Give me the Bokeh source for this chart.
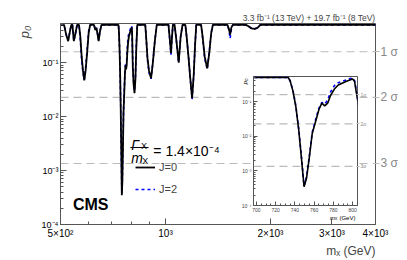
import math
from bokeh.plotting import figure
from bokeh.models import (FixedTicker, LogAxis, Span, Label, Legend, LegendItem,
                          Range1d, ColumnDataSource, Title)
from bokeh.layouts import column
from bokeh.embed import file_html
from bokeh.resources import INLINE

# ---------------- data ----------------
mass = [500, 512, 519, 526, 533, 537, 541, 546, 552, 558, 565, 570, 575, 580, 585, 590, 596, 602, 608,
        624, 629, 634, 638, 643, 649, 655,
        733, 735, 738, 741, 744, 747, 749.5, 752, 755, 758, 762, 765, 768, 771, 774, 777, 781, 785, 789,
        793, 797, 800, 802, 804, 806, 810, 815, 820, 825, 830,
        875, 880, 888, 897, 909, 920, 932, 944,
        1020, 1030, 1037, 1044, 1050, 1062, 1075, 1091, 1105, 1119,
        1140, 1150, 1165, 1178, 1192, 1205, 1215, 1225,
        1265, 1278, 1295, 1317, 1335, 1352, 1367,
        1505, 1520, 1532, 1545, 1560,
        1700, 1730, 1765, 1800, 1835, 1870, 4000]
p0_j0 = [0.5, 0.5, 0.33, 0.25, 0.4, 0.5, 0.5, 0.25, 0.35, 0.5, 0.5, 0.3, 0.13, 0.07, 0.047, 0.07, 0.15, 0.35, 0.5,
         0.5, 0.4, 0.44, 0.35, 0.25, 0.38, 0.5,
         0.5, 0.4, 0.2, 0.07, 0.015, 0.002, 0.00035, 0.0006, 0.0025, 0.012, 0.03, 0.06, 0.09, 0.075, 0.09, 0.15,
         0.23, 0.30, 0.34, 0.38, 0.42, 0.45, 0.38, 0.17, 0.08, 0.04, 0.027, 0.05, 0.2, 0.5,
         0.5, 0.3, 0.12, 0.07, 0.051, 0.1, 0.25, 0.5,
         0.5, 0.25, 0.15, 0.3, 0.5, 0.5, 0.25, 0.1, 0.3, 0.5,
         0.5, 0.3, 0.12, 0.05, 0.022, 0.06, 0.2, 0.5,
         0.5, 0.3, 0.13, 0.078, 0.15, 0.35, 0.5,
         0.5, 0.42, 0.33, 0.45, 0.5,
         0.5, 0.47, 0.43, 0.42, 0.44, 0.5, 0.5]
p0_j2 = [0.5, 0.5, 0.33, 0.26, 0.4, 0.5, 0.5, 0.25, 0.35, 0.5, 0.5, 0.26, 0.11, 0.065, 0.048, 0.08, 0.17, 0.38, 0.5,
         0.5, 0.4, 0.44, 0.35, 0.26, 0.38, 0.5,
         0.5, 0.4, 0.21, 0.075, 0.016, 0.0022, 0.00037, 0.00065, 0.0027, 0.013, 0.034, 0.065, 0.095, 0.085, 0.11,
         0.19, 0.29, 0.35, 0.38, 0.42, 0.46, 0.48, 0.40, 0.19, 0.09, 0.045, 0.03, 0.055, 0.22, 0.5,
         0.5, 0.3, 0.11, 0.065, 0.05, 0.1, 0.25, 0.5,
         0.5, 0.24, 0.14, 0.3, 0.5, 0.5, 0.25, 0.1, 0.3, 0.5,
         0.5, 0.3, 0.12, 0.05, 0.021, 0.06, 0.2, 0.5,
         0.5, 0.28, 0.12, 0.075, 0.16, 0.36, 0.5,
         0.5, 0.4, 0.28, 0.42, 0.5,
         0.5, 0.47, 0.43, 0.42, 0.44, 0.5, 0.5]

sigma_levels = [0.1587, 0.02275, 0.00135]
sigma_labels = ["1 σ", "2 σ", "3 σ"]
inset_sigma_labels = ["1σ", "2σ", "3σ"]
x_ticks = [500, 1000, 2000, 3000, 4000]
x_tick_labels = ["5×10²", "10³", "2×10³", "3×10³", "4×10³"]
x_minor = [600, 700, 800, 900]
y_ticks = [1e-4, 1e-3, 1e-2, 1e-1]
y_tick_labels = ["10⁻⁴", "10⁻³", "10⁻²", "10⁻¹"]
inset_x_ticks = [700, 720, 740, 760, 780, 800]
inset_x_minor = [705, 710, 715, 725, 730, 735, 745, 750, 755, 765, 770, 775, 785, 790, 795]
lumi_text = "3.3 fb⁻¹ (13 TeV) + 19.7 fb⁻¹ (8 TeV)"
x_title = "mₓ (GeV)"
y_title = "p₀"
width_text = "= 1.4×10⁻⁴"
legend_labels = ["J=0", "J=2"]

X0, X1 = 500, 4000
Y0, Y1 = 1e-4, 0.53
IX0, IX1 = 697, 805

FONT = "Liberation Sans"
AXC = "#555555"
SIGC = "#bbbbbb"
SIGT = "#888888"

y_minor = [m * 10.0 ** e for e in range(-4, 0) for m in range(2, 10) if m * 10.0 ** e < Y1]

src = ColumnDataSource(dict(m=mass, j0=p0_j0, j2=p0_j2))

# ---------------- main figure ----------------
W, H = 403, 258
BL, BR, BT, BB = 49, 25, 23, 30
p = figure(width=W, height=H, x_axis_type="log", y_axis_type="log",
           x_range=Range1d(X0, X1), y_range=Range1d(Y0, Y1),
           output_backend="svg", toolbar_location=None, title=None,
           min_border_left=BL, min_border_right=BR, min_border_top=BT, min_border_bottom=BB)
p.grid.visible = False
p.outline_line_color = AXC
p.background_fill_color = "white"

FL, FR, FT, FB = BL, W - BR, BT, H - BB
def dx(px):
    return 10 ** (math.log10(X0) + (px - FL) / (FR - FL) * (math.log10(X1) - math.log10(X0)))
def dy(py):
    return 10 ** (math.log10(Y0) + (FB - py) / (FB - FT) * (math.log10(Y1) - math.log10(Y0)))

for ax in (p.xaxis[0], p.yaxis[0]):
    ax.axis_line_color = AXC
    ax.major_tick_line_color = AXC
    ax.minor_tick_line_color = AXC
    ax.major_tick_in = 6
    ax.major_tick_out = 0
    ax.minor_tick_in = 3
    ax.minor_tick_out = 0
    ax.major_label_text_font = FONT
    ax.major_label_text_color = "black"

p.xaxis.ticker = FixedTicker(ticks=x_ticks, minor_ticks=x_minor)
p.xaxis.major_label_overrides = dict(zip(x_ticks, x_tick_labels))
p.xaxis.major_label_text_font_size = "10px"
p.xaxis.major_label_standoff = 3
p.yaxis.ticker = FixedTicker(ticks=y_ticks, minor_ticks=y_minor)
p.yaxis.major_label_overrides = dict(zip(y_ticks, y_tick_labels))
p.yaxis.major_label_text_font_size = "9px"
p.yaxis.major_label_standoff = 2

rax = LogAxis(ticker=FixedTicker(ticks=sigma_levels, minor_ticks=[]),
              major_label_overrides=dict(zip(sigma_levels, sigma_labels)),
              axis_line_color=None, major_tick_line_color=SIGC, major_tick_in=2, major_tick_out=4,
              minor_tick_line_color=None, major_label_standoff=1,
              major_label_text_font=FONT, major_label_text_font_size="12px",
              major_label_text_color=SIGT)
p.add_layout(rax, "right")

for s in sigma_levels:
    p.add_layout(Span(location=s, dimension="width", line_color=SIGC, line_dash="8 5",
                      line_width=1.2, level="underlay"))

r2 = p.line("m", "j2", source=src, line_color="blue", line_dash="3 3", line_width=1.6)
r0 = p.line("m", "j0", source=src, line_color="black", line_width=1.8)

legend = Legend(items=[LegendItem(label=legend_labels[0], renderers=[r0]),
                       LegendItem(label=legend_labels[1], renderers=[r2])],
                location=(124 - BL, 25), glyph_width=20, glyph_height=20, label_height=20,
                spacing=2, padding=0, margin=0, label_standoff=4,
                border_line_alpha=0, background_fill_alpha=0,
                label_text_font=FONT, label_text_font_size="11px")
p.add_layout(legend)

# titles outside the frame
p.add_layout(Title(text=lumi_text, align="right", standoff=2, offset=0,
                   text_font=FONT, text_font_size="8.5px", text_font_style="normal"), "above")
p.add_layout(Title(text=y_title, align="right", standoff=14, offset=2,
                   text_font=FONT, text_font_size="13px", text_font_style="italic"), "left")
p.add_layout(Title(text=x_title, align="right", standoff=1, offset=0,
                   text_font=FONT, text_font_size="12px", text_font_style="normal"), "below")

def lab(fig, x, y, text, size, style="normal", align="left", baseline="alphabetic", angle=0.0):
    fig.add_layout(Label(x=x, y=y, text=text, text_font=FONT, text_font_size=size,
                         text_font_style=style, text_align=align, text_baseline=baseline,
                         text_color="black", angle=angle))

lab(p, dx(62), dy(207.5), "CMS", "16px", style="bold")
# width-over-mass fraction
lab(p, dx(123), dy(146.5), "Γ", "14px", style="italic")
lab(p, dx(133), dy(148), "X", "9px")
p.segment(x0=[dx(122)], y0=[dy(149.5)], x1=[dx(141)], y1=[dy(149.5)], line_color="black", line_width=1)
lab(p, dx(123), dy(160), "m", "14px", style="italic")
lab(p, dx(134.5), dy(163), "X", "9px")
lab(p, dx(146), dy(153.5), width_text, "14px")
# inset axis titles (they lie inside the main frame, outside the inset frame)
lab(p, dx(241.5), dy(79), y_title, "6px", style="italic", align="right", angle=math.pi / 2)
lab(p, dx(330.5), dy(221), "m", "6px", style="italic")
lab(p, dx(335.5), dy(222), "X", "4px")
lab(p, dx(357), dy(221), "(GeV)", "6px", align="right")

# ---------------- inset figure ----------------
IFW, IFH = 104, 129          # inset frame size
IBL, IBR, IBT, IBB = 60, 28, 2, 30
ILEFT, ITOP = 253 - IBL, 76 - IBT
q = figure(frame_width=IFW, frame_height=IFH, y_axis_type="log",
           x_range=Range1d(IX0, IX1), y_range=Range1d(Y0, Y1),
           output_backend="svg", toolbar_location=None, title=None,
           min_border_left=IBL, min_border_right=IBR, min_border_top=IBT, min_border_bottom=IBB)
q.grid.visible = False
q.border_fill_alpha = 0
q.background_fill_color = "white"
q.outline_line_color = AXC
q.styles = {"position": "absolute", "left": f"{ILEFT}px", "top": f"{ITOP}px"}

for ax in (q.xaxis[0], q.yaxis[0]):
    ax.axis_line_color = AXC
    ax.major_tick_line_color = AXC
    ax.minor_tick_line_color = AXC
    ax.major_tick_in = 4
    ax.major_tick_out = 0
    ax.minor_tick_in = 2
    ax.minor_tick_out = 0
    ax.major_label_text_font = FONT
    ax.major_label_text_font_size = "5px"
    ax.major_label_standoff = 2
q.xaxis.ticker = FixedTicker(ticks=inset_x_ticks, minor_ticks=inset_x_minor)
q.yaxis.ticker = FixedTicker(ticks=y_ticks, minor_ticks=y_minor)
q.yaxis.major_label_overrides = dict(zip(y_ticks, y_tick_labels))

qrax = LogAxis(ticker=FixedTicker(ticks=sigma_levels, minor_ticks=[]),
               major_label_overrides=dict(zip(sigma_levels, inset_sigma_labels)),
               axis_line_color=None, major_tick_line_color=SIGC, major_tick_in=1, major_tick_out=2,
               minor_tick_line_color=None, major_label_standoff=1,
               major_label_text_font=FONT, major_label_text_font_size="5px",
               major_label_text_color=SIGT)
q.add_layout(qrax, "right")

for s in sigma_levels:
    q.add_layout(Span(location=s, dimension="width", line_color=SIGC, line_dash="8 5",
                      line_width=1.2, level="underlay"))

q.line("m", "j2", source=src, line_color="blue", line_dash="3 3", line_width=1.6)
q.line("m", "j0", source=src, line_color="black", line_width=1.6)

layout = column(p, q)
open("out.html", "w").write(file_html(layout, INLINE))
